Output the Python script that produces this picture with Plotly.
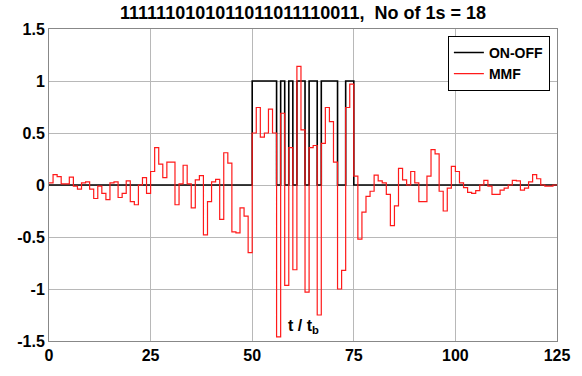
import plotly.graph_objects as go

bits = "1111110101011011011110011"
n_ones = bits.count("1")
t_start = 50
n_total = 125

x_ticks = [0, 25, 50, 75, 100, 125]
y_ticks = [-1.5, -1, -0.5, 0, 0.5, 1, 1.5]
y_tick_labels = ["-1.5", "-1", "-0.5", "0", "0.5", "1", "1.5"]

mmf = [
    0.02, 0.10, 0.08, 0.01, 0.01, 0.075, -0.01, -0.04, 0.02, 0.03,
    -0.04, -0.13, -0.01, -0.08, -0.14, 0.02, 0.03, -0.12, -0.08, 0.04,
    -0.16, -0.19, 0.0, 0.07, -0.08, 0.13, 0.36, 0.20, 0.07, 0.22,
    0.22, -0.19, 0.01, 0.19, 0.01, -0.22, 0.05, 0.09, -0.48, -0.16,
    0.03, 0.055, -0.33, 0.31, 0.21, -0.45, -0.46, -0.22, -0.30, -0.65,
    0.5, 0.745, 0.46, 0.5, 0.73, 0.5, -1.46, 0.69, -0.965, 0.36,
    -0.815, 1.14, 0.53, -1.03, 0.36, 0.38, -1.25, 0.40, 0.745, 0.61,
    0.22, -1.0, -0.82, 0.745, 0.97, 0.086, -0.52, -0.26, -0.11, -0.06,
    0.095, 0.04, 0.02, -0.09, -0.39, -0.2, 0.16, 0.05, 0.0, 0.13,
    0.02, -0.16, -0.16, 0.085, 0.34, 0.30, -0.06, -0.25, -0.03, 0.18,
    0.13, 0.02, -0.025, -0.07, -0.08, -0.055, 0.0, 0.045, -0.01, -0.09,
    -0.09, -0.05, -0.03, 0.0, 0.045, 0.04, -0.05, -0.03, 0.03, 0.1,
    0.06, 0.0, -0.01, -0.01, 0.0,
]

onoff = [0.0] * n_total
for i, b in enumerate(bits):
    onoff[t_start + i] = float(b)

t = list(range(n_total + 1))
onoff_y = onoff + [onoff[-1]]
mmf_y = mmf + [mmf[-1]]

fig = go.Figure()
fig.add_trace(go.Scatter(x=t, y=onoff_y, mode="lines", line_shape="hv",
                         name="ON-OFF", line=dict(color="black", width=1.6)))
fig.add_trace(go.Scatter(x=t, y=mmf_y, mode="lines", line_shape="hv",
                         name="MMF", line=dict(color="#ff1a1a", width=1.2)))

FAM = "Liberation Sans, Arial, sans-serif"
bold = dict(family=FAM, size=16, color="black", weight="bold")

fig.update_layout(
    width=582, height=376,
    margin=dict(l=49, r=24, t=29, b=33),
    paper_bgcolor="white", plot_bgcolor="white",
    title=dict(text=f"{bits},  No of 1s = {n_ones}", x=303 / 582, xanchor="center",
               y=1 - 13 / 376, yanchor="middle",
               font=dict(family=FAM, size=18, color="black", weight="bold")),
    showlegend=True,
    legend=dict(x=0.986, y=0.978, xanchor="right", yanchor="top",
                bgcolor="white", bordercolor="black", borderwidth=1,
                font=dict(family=FAM, size=14, color="black", weight="bold"),
                tracegroupgap=0, itemwidth=30),
    xaxis=dict(range=[0, 125], tickvals=x_ticks, ticktext=[str(v) for v in x_ticks],
               showgrid=True, gridcolor="#b8b8b8", gridwidth=1,
               showline=True, linecolor="#888888", mirror=True, linewidth=1,
               zeroline=False, ticks="", tickfont=bold),
    yaxis=dict(range=[-1.5, 1.5], tickvals=y_ticks, ticktext=y_tick_labels,
               showgrid=True, gridcolor="#b8b8b8", gridwidth=1,
               showline=True, linecolor="#888888", mirror=True, linewidth=1,
               zeroline=False, ticks="", tickfont=bold),
    annotations=[dict(x=62.5, y=-1.36, xref="x", yref="y",
                      text="t / t<sub>b</sub>", showarrow=False,
                      font=dict(family=FAM, size=16, color="black", weight="bold"))],
)

fig.write_html("out.html")
